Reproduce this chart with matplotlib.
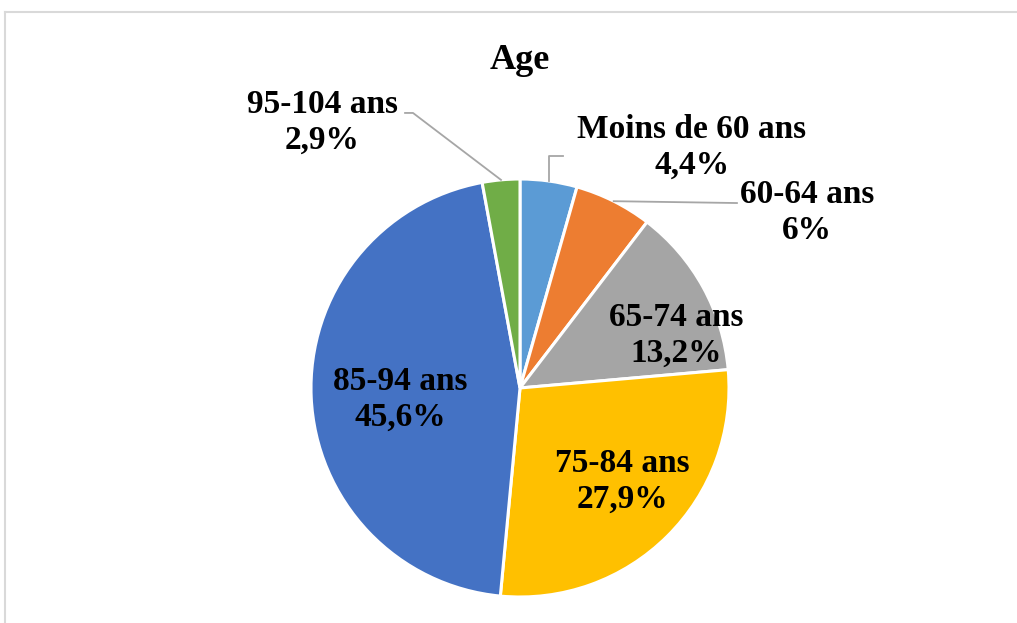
import numpy as np
import matplotlib.pyplot as plt
from matplotlib.lines import Line2D

# data
categories = ['Moins de 60 ans', '60-64 ans', '65-74 ans', '75-84 ans', '85-94 ans', '95-104 ans']
shares = [4.4, 6.0, 13.2, 27.9, 45.6, 2.9]
share_labels = ['4,4%', '6%', '13,2%', '27,9%', '45,6%', '2,9%']
colors = ['#5B9BD5', '#ED7D31', '#A5A5A5', '#FFC000', '#4472C4', '#70AD47']

plt.rcParams['font.family'] = ['Liberation Serif', 'DejaVu Serif']

W, H = 1017, 623
cx, cy, r = 520, 388, 209  # pie centre / radius in pixels

fig = plt.figure(figsize=(W / 100, H / 100), dpi=100)
ax = fig.add_axes([0, 0, 1, 1])
ax.pie(shares, colors=colors, startangle=90, counterclock=False,
       wedgeprops=dict(edgecolor='white', linewidth=2.2))
ax.set_xlim((0 - cx) / r, (W - cx) / r)
ax.set_ylim((cy - H) / r, cy / r)
ax.axis('off')

# label positions (data units, pie radius = 1)
label_pos = [(0.823, 1.150), (1.373, 0.838), (0.746, 0.254),
             (0.488, -0.448), (-0.574, -0.055), (-0.947, 1.270)]
for cat, lab, (x, y) in zip(categories, share_labels, label_pos):
    ax.text(x, y, f'{cat}\n{lab}', ha='center', va='center', fontsize=24,
            fontweight='bold', linespacing=1.2, color='black')

# leader lines for the small outside slices
ends = np.cumsum(shares)
mids = 90 - (ends - np.array(shares) / 2) * 3.6
lc = '#A6A6A6'
a = np.deg2rad(mids[0])
ax.plot([np.cos(a), np.cos(a), 0.206], [np.sin(a), 1.110, 1.110], color=lc, lw=1.3)
a = np.deg2rad(mids[1])
ax.plot([np.cos(a), 1.038], [np.sin(a), 0.885], color=lc, lw=1.3)
a = np.deg2rad(mids[5])
ax.plot([np.cos(a), -0.512, -0.550], [np.sin(a), 1.316, 1.316], color=lc, lw=1.3)

ax.text(0, (cy - 69) / r, 'Age', ha='center', va='baseline', fontsize=26, fontweight='bold')

# chart frame (cut at right/bottom edge)
fig.add_artist(Line2D([4.5 / W, 4.5 / W], [0, 1 - 12 / H], transform=fig.transFigure, color='#D9D9D9', lw=1.5))
fig.add_artist(Line2D([4.5 / W, 1], [1 - 12 / H, 1 - 12 / H], transform=fig.transFigure, color='#D9D9D9', lw=1.5))

fig.savefig('out.png', dpi=100)
